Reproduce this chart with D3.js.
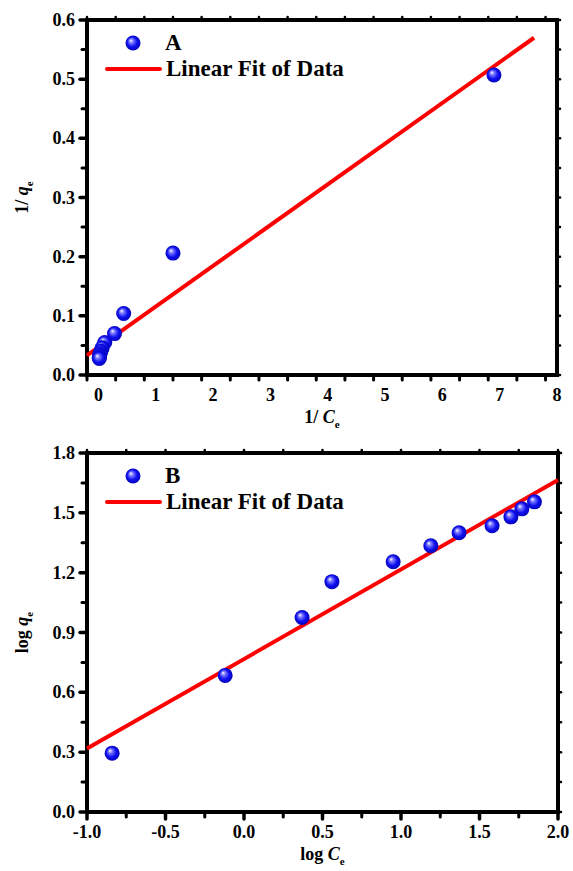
<!DOCTYPE html>
<html lang="en">
<head>
    <meta charset="UTF-8">
    <title>Isotherm linear fits</title>
    <script src="https://d3js.org/d3.v7.min.js"></script>
    <style>
        body { margin: 0; background: #fff; }
        svg { display: block; }
        .tick-label { font-family: "Liberation Serif", "Times New Roman", serif; font-weight: bold; font-size: 18px; fill: #000; }
        .axis-label { font-family: "Liberation Serif", "Times New Roman", serif; font-weight: bold; font-size: 18px; fill: #000; }
        .legend-text { font-family: "Liberation Serif", "Times New Roman", serif; font-weight: bold; font-size: 23px; fill: #000; }
        .fit { fill: none; stroke: #ff0000; stroke-width: 4px; }
    </style>
</head>
<body>
<svg id="chart" width="573" height="871"></svg>
<script>
    // --- data: panel A (1/Ce vs 1/qe) ---
    const invCe = [6.90, 1.30, 0.44, 0.28, 0.11, 0.065, 0.043, 0.026, 0.020, 0.017, 0.014];
    const invQe = [0.507, 0.206, 0.104, 0.070, 0.055, 0.046, 0.040, 0.036, 0.033, 0.030, 0.028];
    const fitAx = [-0.2, 7.6];
    const fitAy = [0.033, 0.570];
    const ticksAx = [0, 1, 2, 3, 4, 5, 6, 7, 8];
    const ticksAy = [0.0, 0.1, 0.2, 0.3, 0.4, 0.5, 0.6];

    // --- data: panel B (log Ce vs log qe) ---
    const logCe = [-0.84, -0.12, 0.37, 0.56, 0.95, 1.19, 1.37, 1.58, 1.70, 1.77, 1.85];
    const logQe = [0.295, 0.685, 0.975, 1.155, 1.255, 1.335, 1.400, 1.435, 1.480, 1.520, 1.555];
    const fitBx = [-1.0, 2.0];
    const fitBy = [0.318, 1.665];
    const ticksBx = [-1.0, -0.5, 0.0, 0.5, 1.0, 1.5, 2.0];
    const ticksBy = [0.0, 0.3, 0.6, 0.9, 1.2, 1.5, 1.8];

    const svg = d3.select("#chart");

    // plain hyphen for negatives, like the original
    const fmt1 = d => d.toFixed(1);
    const fmt0 = d => d.toFixed(0);

    // sphere-looking marker
    const defs = svg.append("defs");
    const grad = defs.append("radialGradient").attr("id", "ball")
        .attr("cx", "50%").attr("cy", "50%").attr("r", "55%")
        .attr("fx", "35%").attr("fy", "32%");
    grad.append("stop").attr("offset", "0%").attr("stop-color", "#ffffff");
    grad.append("stop").attr("offset", "25%").attr("stop-color", "#7a7aff");
    grad.append("stop").attr("offset", "60%").attr("stop-color", "#1010f0");
    grad.append("stop").attr("offset", "100%").attr("stop-color", "#0000b0");

    function panel(opt) {
        const g = svg.append("g");
        const x = d3.scaleLinear().domain(opt.xDomain).range([opt.left, opt.right]);
        const y = d3.scaleLinear().domain(opt.yDomain).range([opt.bottom, opt.top]);

        // minor ticks (half steps)
        const xMinor = d3.range(opt.xDomain[0], opt.xDomain[1] + 1e-9, opt.xStep / 2);
        const yMinor = d3.range(opt.yDomain[0], opt.yDomain[1] + 1e-9, opt.yStep / 2);
        const xMajor = new Set(opt.xTicks.map(v => v.toFixed(3)));

        const tick = (x1, y1, x2, y2, w) => g.append("line")
            .attr("x1", x1).attr("y1", y1).attr("x2", x2).attr("y2", y2)
            .attr("stroke", "#000").attr("stroke-width", w).attr("stroke-linecap", "round");

        xMinor.forEach(v => {
            const major = xMajor.has(v.toFixed(3));
            tick(x(v), opt.bottom, x(v), opt.bottom + (major ? 7 : 5), major ? 3.5 : 3);
            tick(x(v), opt.top, x(v), opt.top - 3, 2.5);
        });
        yMinor.forEach((v, i) => {
            const major = i % 2 === 0;
            tick(opt.left, y(v), opt.left - (major ? 7 : 5), y(v), major ? 3.5 : 3);
            tick(opt.right, y(v), opt.right + 3, y(v), 2.5);
        });

        // frame
        g.append("rect").attr("x", opt.left).attr("y", opt.top)
            .attr("width", opt.right - opt.left).attr("height", opt.bottom - opt.top)
            .attr("fill", "none").attr("stroke", "#000").attr("stroke-width", 4);

        // tick labels
        g.selectAll(".xl").data(opt.xTicks).join("text")
            .attr("class", "tick-label").attr("text-anchor", "middle")
            .attr("x", d => x(d)).attr("y", opt.bottom + 26)
            .text(d => opt.xFmt(d));
        g.selectAll(".yl").data(opt.yTicks).join("text")
            .attr("class", "tick-label").attr("text-anchor", "end")
            .attr("x", opt.left - 12).attr("y", d => y(d) + 6)
            .text(d => opt.yFmt(d));

        // fit line
        g.append("path").attr("class", "fit")
            .datum(d3.zip(opt.fitX, opt.fitY))
            .attr("d", d3.line().x(d => x(d[0])).y(d => y(d[1])));

        // points
        g.selectAll(".pt").data(d3.zip(opt.xs, opt.ys)).join("circle")
            .attr("cx", d => x(d[0])).attr("cy", d => y(d[1]))
            .attr("r", 7.5).attr("fill", "url(#ball)");

        // axis labels
        const xl = g.append("text").attr("class", "axis-label").attr("text-anchor", "middle")
            .attr("x", (opt.left + opt.right) / 2).attr("y", opt.bottom + 48);
        xl.append("tspan").text(opt.xPre);
        xl.append("tspan").attr("font-style", "italic").text("C");
        xl.append("tspan").attr("font-size", "11px").attr("dy", 5).text("e");

        const yl = g.append("text").attr("class", "axis-label").attr("text-anchor", "middle")
            .attr("transform", `translate(28,${(opt.top + opt.bottom) / 2}) rotate(-90)`);
        yl.append("tspan").text(opt.yPre);
        yl.append("tspan").attr("font-style", "italic").text("q");
        yl.append("tspan").attr("font-size", "11px").attr("dy", 5).text("e");

        // legend
        const lx = opt.left, ly = opt.top;
        g.append("circle").attr("cx", lx + 46).attr("cy", ly + 23).attr("r", 7.5).attr("fill", "url(#ball)");
        g.append("text").attr("class", "legend-text").attr("x", lx + 78).attr("y", ly + 30).text(opt.name);
        g.append("line").attr("x1", lx + 20).attr("x2", lx + 73).attr("y1", ly + 49).attr("y2", ly + 49)
            .attr("stroke", "#ff0000").attr("stroke-width", 4).attr("stroke-linecap", "round");
        g.append("text").attr("class", "legend-text").attr("x", lx + 79).attr("y", ly + 56).text("Linear Fit of Data");
    }

    panel({
        left: 87, right: 557, top: 20, bottom: 375,
        xDomain: [-0.2, 8], yDomain: [0, 0.6], xStep: 1, yStep: 0.1,
        xTicks: ticksAx, yTicks: ticksAy,
        xFmt: fmt0, yFmt: fmt1,
        xs: invCe, ys: invQe, fitX: fitAx, fitY: fitAy,
        xPre: "1/ ", yPre: "1/ ", name: "A"
    });

    panel({
        left: 87, right: 558, top: 453, bottom: 812,
        xDomain: [-1, 2], yDomain: [0, 1.8], xStep: 0.5, yStep: 0.3,
        xTicks: ticksBx, yTicks: ticksBy,
        xFmt: fmt1, yFmt: fmt1,
        xs: logCe, ys: logQe, fitX: fitBx, fitY: fitBy,
        xPre: "log ", yPre: "log ", name: "B"
    });
</script>
</body>
</html>
